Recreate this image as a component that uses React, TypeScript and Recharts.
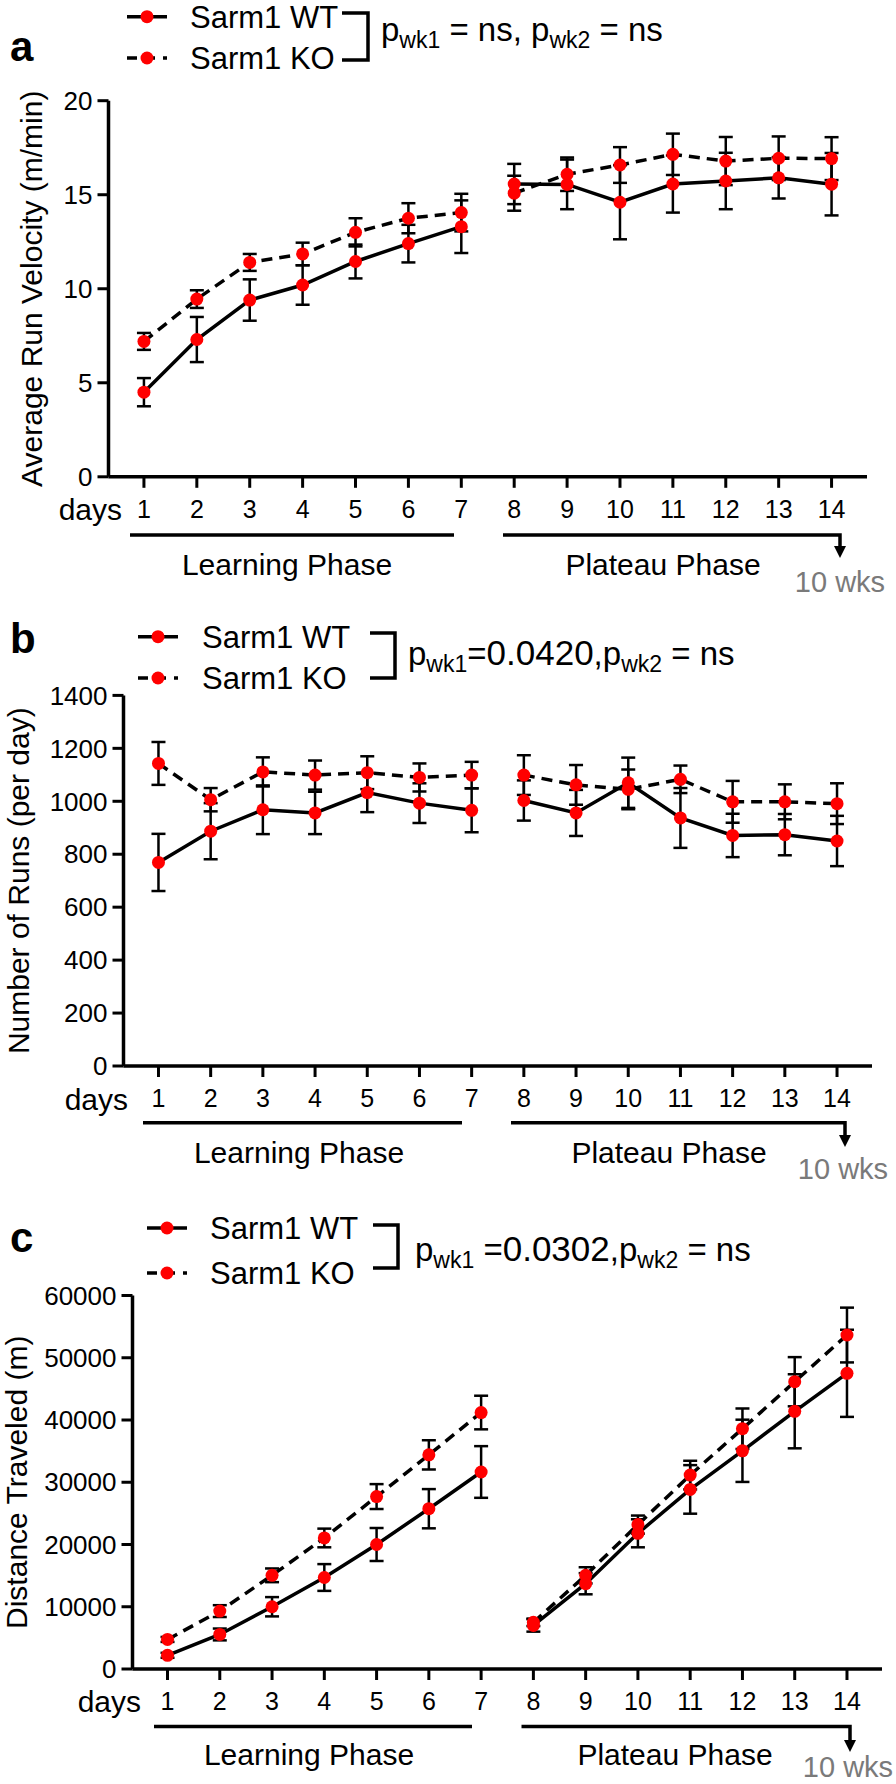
import React from 'react';
import { LineChart, Line, XAxis, YAxis, ErrorBar } from 'recharts';

const FONT = '"Liberation Sans", Arial, Helvetica, sans-serif';

// days of wheel running; 1-7 learning phase, 8-14 plateau phase
const days = [1, 2, 3, 4, 5, 6, 7, 8, 9, 10, 11, 12, 13, 14];
const learningDays = 7;

// a) average run velocity (m/min), mean and SEM
const velocityWT = [4.5, 7.3, 9.4, 10.2, 11.45, 12.4, 13.3, 15.57, 15.55, 14.6, 15.57, 15.73, 15.9, 15.56];
const velocityWTErr = [0.75, 1.2, 1.1, 1.05, 0.9, 1.0, 1.4, 1.07, 1.32, 1.97, 1.52, 1.5, 1.1, 1.66];
const velocityKO = [7.2, 9.45, 11.4, 11.85, 13.0, 13.75, 14.05, 15.08, 16.09, 16.58, 17.15, 16.79, 16.94, 16.92];
const velocityKOErr = [0.45, 0.47, 0.45, 0.6, 0.75, 0.8, 1.0, 0.93, 0.89, 0.95, 1.1, 1.28, 1.16, 1.14];
const velocityTicks = [0, 5, 10, 15, 20];

// b) number of runs per day
const runsWT = [769, 887, 968, 956, 1033, 993, 966, 1003, 956, 1070, 937, 871, 874, 850];
const runsWTErr = [108, 106, 92, 80, 74, 75, 83, 76, 87, 95, 113, 82, 78, 95];
const runsKO = [1143, 1006, 1111, 1099, 1108, 1090, 1099, 1099, 1062, 1045, 1083, 998, 998, 991];
const runsKOErr = [81, 44, 55, 55, 62, 53, 50, 75, 75, 75, 52, 79, 66, 77];
const runsTicks = [0, 200, 400, 600, 800, 1000, 1200, 1400];

// c) cumulative distance traveled (m)
const distWT = [2200, 5550, 10000, 14700, 20000, 25750, 31650, 7000, 13700, 21800, 28850, 35050, 41400, 47500];
const distWTErr = [400, 950, 1550, 2150, 2650, 3150, 4150, 1000, 1700, 2250, 3900, 5000, 5950, 7000];
const distKO = [4750, 9300, 15050, 21050, 27700, 34400, 41200, 7500, 15050, 23200, 31150, 38600, 46150, 53650];
const distKOErr = [400, 950, 1100, 1500, 2000, 2350, 2700, 600, 1300, 1450, 2300, 3250, 3950, 4400];
const distTicks = [0, 10000, 20000, 30000, 40000, 50000, 60000];

// split each group into learning / plateau so the line breaks between day 7 and 8
const buildRows = (wt: number[], wtErr: number[], ko: number[], koErr: number[]) =>
  days.map((day, i) => {
    const learn = day <= learningDays;
    return {
      day,
      wtL: learn ? wt[i] : null,
      wtLErr: learn ? wtErr[i] : null,
      wtP: learn ? null : wt[i],
      wtPErr: learn ? null : wtErr[i],
      koL: learn ? ko[i] : null,
      koLErr: learn ? koErr[i] : null,
      koP: learn ? null : ko[i],
      koPErr: learn ? null : koErr[i],
    };
  });

const series = [
  { key: 'wtL', dash: undefined },
  { key: 'wtP', dash: undefined },
  { key: 'koL', dash: '11 7' },
  { key: 'koP', dash: '11 7' },
];

type PValuePart = { text: string; sub?: boolean; big?: boolean };

interface PanelSpec {
  letter: string;
  rows: ReturnType<typeof buildRows>;
  yMax: number;
  yTicks: number[];
  yLabel: string;
  top: number;
  height: number;
  plotTop: number;
  plotBottom: number;
  plotLeft: number;
  plotRight: number;
  letterY: number;
  wtY: number;
  koY: number;
  markX1: number;
  markX2: number;
  textX: number;
  bracket: [number, number, number, number];
  pX: number;
  pY: number;
  pValue: PValuePart[];
  yLabelX: number;
  daysRight: number;
  daysY: number;
  phaseY: number;
  learn: [number, number];
  plateau: [number, number];
  arrowTip: number;
  phaseTextY: number;
  learnTextX: number;
  plateauTextX: number;
  wksX: number;
  wksY: number;
}

const panels: PanelSpec[] = [
  {
    letter: 'a',
    rows: buildRows(velocityWT, velocityWTErr, velocityKO, velocityKOErr),
    yMax: 20,
    yTicks: velocityTicks,
    yLabel: 'Average Run Velocity (m/min)',
    top: 0, height: 560,
    plotTop: 100.7, plotBottom: 476.8, plotLeft: 108.5, plotRight: 867,
    letterY: 61, wtY: 16.7, koY: 58,
    markX1: 127, markX2: 167, textX: 190,
    bracket: [342, 368, 13, 60],
    pX: 381, pY: 41,
    pValue: [
      { text: 'p' }, { text: 'wk1', sub: true }, { text: ' = ns, p' },
      { text: 'wk2', sub: true }, { text: ' = ns' },
    ],
    yLabelX: 42,
    daysRight: 122, daysY: 520,
    phaseY: 535, learn: [130, 454], plateau: [503, 840], arrowTip: 558,
    phaseTextY: 575, learnTextX: 287, plateauTextX: 663,
    wksX: 840, wksY: 592,
  },
  {
    letter: 'b',
    rows: buildRows(runsWT, runsWTErr, runsKO, runsKOErr),
    yMax: 1400,
    yTicks: runsTicks,
    yLabel: 'Number of Runs (per day)',
    top: 600, height: 560,
    plotTop: 695.4, plotBottom: 1066, plotLeft: 123.5, plotRight: 872,
    letterY: 653, wtY: 636.7, koY: 678,
    markX1: 138, markX2: 178, textX: 202,
    bracket: [370, 395, 633, 678],
    pX: 408, pY: 665,
    pValue: [
      { text: 'p' }, { text: 'wk1', sub: true }, { text: '=' }, { text: '0.0420', big: true },
      { text: ',p' }, { text: 'wk2', sub: true }, { text: ' = ns' },
    ],
    yLabelX: 29,
    daysRight: 128, daysY: 1109.5,
    phaseY: 1122.7, learn: [143, 462], plateau: [511, 845], arrowTip: 1147,
    phaseTextY: 1163, learnTextX: 299, plateauTextX: 669,
    wksX: 843, wksY: 1179,
  },
  {
    letter: 'c',
    rows: buildRows(distWT, distWTErr, distKO, distKOErr),
    yMax: 60000,
    yTicks: distTicks,
    yLabel: 'Distance Traveled (m)',
    top: 1180, height: 604,
    plotTop: 1295.5, plotBottom: 1669, plotLeft: 132.5, plotRight: 882,
    letterY: 1252, wtY: 1228, koY: 1273,
    markX1: 147, markX2: 187, textX: 210,
    bracket: [373, 398, 1225, 1268],
    pX: 415, pY: 1261,
    pValue: [
      { text: 'p' }, { text: 'wk1', sub: true }, { text: ' =' }, { text: '0.0302', big: true },
      { text: ',p' }, { text: 'wk2', sub: true }, { text: ' = ns' },
    ],
    yLabelX: 27,
    daysRight: 141, daysY: 1712,
    phaseY: 1726.6, learn: [154, 472], plateau: [521.5, 850], arrowTip: 1752,
    phaseTextY: 1765, learnTextX: 309, plateauTextX: 675,
    wksX: 848, wksY: 1777,
  },
];

const PanelChart = ({ p }: { p: PanelSpec }) => (
  <div style={{ position: 'absolute', left: 0, top: p.top, width: 896, height: p.height }}>
    <LineChart
      width={896}
      height={p.height}
      data={p.rows}
      margin={{ top: p.plotTop - p.top, right: 896 - p.plotRight, bottom: 0, left: 0 }}
    >
      <XAxis
        type="number"
        dataKey="day"
        domain={[0.33, 14.67]}
        ticks={days}
        interval={0}
        height={p.top + p.height - p.plotBottom}
        tickSize={11}
        tickMargin={12}
        axisLine={{ stroke: '#000', strokeWidth: 3.5 }}
        tickLine={{ stroke: '#000', strokeWidth: 3 }}
        tick={{ fill: '#000', fontSize: 25, fontFamily: FONT }}
      />
      <YAxis
        type="number"
        domain={[0, p.yMax]}
        ticks={p.yTicks}
        interval={0}
        width={p.plotLeft}
        tickSize={11}
        tickMargin={5}
        axisLine={{ stroke: '#000', strokeWidth: 3.5 }}
        tickLine={{ stroke: '#000', strokeWidth: 3 }}
        tick={{ fill: '#000', fontSize: 26, fontFamily: FONT }}
      />
      {series.map((s) => (
        <Line
          key={s.key}
          dataKey={s.key}
          type="linear"
          stroke="#000"
          strokeWidth={3.5}
          strokeDasharray={s.dash}
          connectNulls={false}
          dot={{ r: 6.5, fill: '#ff0000', stroke: '#ff0000', strokeWidth: 0 }}
          activeDot={false}
          isAnimationActive={false}
        >
          <ErrorBar dataKey={s.key + 'Err'} width={7} stroke="#000" strokeWidth={2.5} direction="y" />
        </Line>
      ))}
    </LineChart>
  </div>
);

const Annotations = ({ p }: { p: PanelSpec }) => {
  const midX = (p.markX1 + p.markX2) / 2;
  const [bx1, bx2, by1, by2] = p.bracket;
  let dy = 0;
  return (
    <g fontFamily={FONT} fill="#000">
      <text x={10} y={p.letterY} fontSize={42} fontWeight="bold">{p.letter}</text>

      {/* legend */}
      <line x1={p.markX1} x2={p.markX2} y1={p.wtY} y2={p.wtY} stroke="#000" strokeWidth={3.5} />
      <circle cx={midX} cy={p.wtY} r={6.5} fill="#ff0000" />
      <text x={p.textX} y={p.wtY + 11} fontSize={31}>Sarm1 WT</text>
      <line x1={p.markX1} x2={p.markX2} y1={p.koY} y2={p.koY} stroke="#000" strokeWidth={3.5} strokeDasharray="10 8" />
      <circle cx={midX} cy={p.koY} r={6.5} fill="#ff0000" />
      <text x={p.textX} y={p.koY + 11} fontSize={31}>Sarm1 KO</text>
      <path d={`M${bx1},${by1} H${bx2} V${by2} H${bx1}`} fill="none" stroke="#000" strokeWidth={3.5} />
      <text x={p.pX} y={p.pY} fontSize={33} style={{ whiteSpace: 'pre' }}>
        {p.pValue.map((part, i) => {
          const target = part.sub ? 7 : 0;
          const shift = target - dy;
          dy = target;
          return (
            <tspan key={i} dy={shift} fontSize={part.sub ? 23 : part.big ? 35 : 33}>{part.text}</tspan>
          );
        })}
      </text>

      {/* y axis title */}
      <text
        transform={`translate(${p.yLabelX},${(p.plotTop + p.plotBottom) / 2}) rotate(-90)`}
        textAnchor="middle"
        fontSize={30}
      >
        {p.yLabel}
      </text>

      <text x={p.daysRight} y={p.daysY} textAnchor="end" fontSize={30}>days</text>

      {/* phase brackets */}
      <line x1={p.learn[0]} x2={p.learn[1]} y1={p.phaseY} y2={p.phaseY} stroke="#000" strokeWidth={3.5} />
      <path
        d={`M${p.plateau[0]},${p.phaseY} H${p.plateau[1]} V${p.arrowTip - 9}`}
        fill="none"
        stroke="#000"
        strokeWidth={3.5}
      />
      <polygon
        points={`${p.plateau[1] - 6},${p.arrowTip - 12} ${p.plateau[1] + 6},${p.arrowTip - 12} ${p.plateau[1]},${p.arrowTip}`}
        fill="#000"
      />
      <text x={p.learnTextX} y={p.phaseTextY} textAnchor="middle" fontSize={30}>Learning Phase</text>
      <text x={p.plateauTextX} y={p.phaseTextY} textAnchor="middle" fontSize={30}>Plateau Phase</text>
      <text x={p.wksX} y={p.wksY} textAnchor="middle" fontSize={29} fill="#7a7a7a">10 wks</text>
    </g>
  );
};

export default function App() {
  return (
    <div style={{ position: 'absolute', left: 0, top: 0, width: 896, height: 1784, background: '#fff', overflow: 'hidden' }}>
      {panels.map((p) => (
        <PanelChart key={p.letter} p={p} />
      ))}
      <svg
        width={896}
        height={1784}
        style={{ position: 'absolute', left: 0, top: 0, pointerEvents: 'none' }}
      >
        {panels.map((p) => (
          <Annotations key={p.letter} p={p} />
        ))}
      </svg>
    </div>
  );
}
